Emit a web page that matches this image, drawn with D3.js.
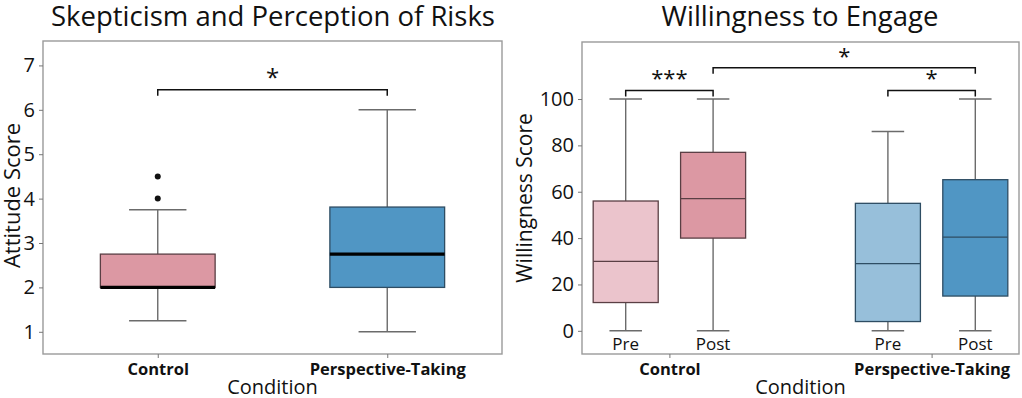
<!DOCTYPE html>
<html><head><meta charset="utf-8">
<script src="https://cdn.jsdelivr.net/npm/d3@7/dist/d3.min.js"></script>
<style>body{margin:0;background:#fff}svg{display:block}text{font-family:"Open Sans",sans-serif;fill:#111}</style>
</head><body>
<svg id="c" width="1022" height="398"></svg>
<script>
// ---- data ----
const leftCategories = ["Control", "Perspective-Taking"];
// [whiskerLow, Q1, median, Q3, whiskerHigh]
const leftStats = [
  [1.25, 2.0, 2.0, 2.75, 3.75],
  [1.0, 2.0, 2.75, 3.81, 6.0]
];
const leftOutliers = [[4.0, 4.5], []];
const leftTicks = [1, 2, 3, 4, 5, 6, 7];

const rightCategories = ["Control", "Perspective-Taking"];
const rightPhases = ["Pre", "Post"];
const rightStats = [
  [[0, 12.2, 30, 56, 100], [0, 40, 57, 77, 100]],
  [[0, 4, 29, 55, 86], [0, 15, 40.4, 65.2, 100]]
];
const rightTicks = [0, 20, 40, 60, 80, 100];

const colors = {
  Control: { Pre: "#ebc4cc", Post: "#dc98a3", edge: "#5a3f44" },
  "Perspective-Taking": { Pre: "#97bfda", Post: "#5096c4", edge: "#2e4d63" }
};

const svg = d3.select("#c");

function frame(x0, x1, y0, y1) {
  svg.append("rect").attr("x", x0).attr("y", y0).attr("width", x1 - x0).attr("height", y1 - y0)
    .attr("fill", "none").attr("stroke", "#9a9a9a").attr("stroke-width", 1.4);
}

function drawBox(g, cx, w, s, y, fill, edge, medColor, medWidth) {
  const capW = w / 2;
  const wc = "#6b6b6b";
  g.append("line").attr("x1", cx).attr("x2", cx).attr("y1", y(s[0])).attr("y2", y(s[1])).attr("stroke", wc).attr("stroke-width", 1.4);
  g.append("line").attr("x1", cx).attr("x2", cx).attr("y1", y(s[3])).attr("y2", y(s[4])).attr("stroke", wc).attr("stroke-width", 1.4);
  g.append("line").attr("x1", cx - capW / 2).attr("x2", cx + capW / 2).attr("y1", y(s[0])).attr("y2", y(s[0])).attr("stroke", wc).attr("stroke-width", 1.4);
  g.append("line").attr("x1", cx - capW / 2).attr("x2", cx + capW / 2).attr("y1", y(s[4])).attr("y2", y(s[4])).attr("stroke", wc).attr("stroke-width", 1.4);
  g.append("rect").attr("x", cx - w / 2).attr("y", y(s[3])).attr("width", w).attr("height", y(s[1]) - y(s[3]))
    .attr("fill", fill).attr("stroke", edge).attr("stroke-width", 1.3);
  g.append("line").attr("x1", cx - w / 2).attr("x2", cx + w / 2).attr("y1", y(s[2])).attr("y2", y(s[2])).attr("stroke", medColor).attr("stroke-width", medWidth);
}

function bracket(xa, xb, yb, leg, label, fs) {
  svg.append("path").attr("d", `M${xa},${yb + leg}V${yb}H${xb}V${yb + leg}`).attr("fill", "none").attr("stroke", "#111").attr("stroke-width", 1.5);
  svg.append("text").attr("x", (xa + xb) / 2).attr("y", yb - 4).attr("text-anchor", "middle").attr("font-size", fs).text(label);
}

// ---- left panel ----
{
  const L = { x0: 43, x1: 502, y0: 41, y1: 354 };
  const x = d3.scaleLinear().domain([-0.5, 1.5]).range([L.x0, L.x1]);
  const y = d3.scaleLinear().domain([0.5, 7.55]).range([L.y1, L.y0]);
  const g = svg.append("g");
  const bw = x(0.5) - x(0);
  leftStats.forEach((s, i) => {
    const cat = leftCategories[i];
    drawBox(g, x(i), bw, s, y, colors[cat].Post, colors[cat].edge, "#000", 3.2);
    leftOutliers[i].forEach(v => g.append("circle").attr("cx", x(i)).attr("cy", y(v)).attr("r", 3).attr("fill", "#111"));
  });
  frame(L.x0, L.x1, L.y0, L.y1);
  const ya = svg.append("g").attr("transform", `translate(${L.x0},0)`)
    .call(d3.axisLeft(y).tickValues(leftTicks).tickSize(4).tickPadding(4).tickFormat(d3.format("d")));
  ya.select(".domain").remove();
  ya.selectAll("line").attr("stroke", "#777");
  ya.selectAll("text").attr("font-size", 20).attr("fill", "#111");
  const xa = svg.append("g").attr("transform", `translate(0,${L.y1})`)
    .call(d3.axisBottom(x).tickValues([0, 1]).tickSize(4).tickPadding(5).tickFormat(d => leftCategories[d]));
  xa.select(".domain").remove();
  xa.selectAll("line").attr("stroke", "#777");
  xa.selectAll("text").attr("font-size", 16.5).attr("font-weight", "bold").attr("fill", "#111");
  svg.append("text").attr("x", (L.x0 + L.x1) / 2).attr("y", 394).attr("text-anchor", "middle").attr("font-size", 20).text("Condition");
  svg.append("text").attr("transform", `translate(20,${(L.y0 + L.y1) / 2 - 2}) rotate(-90)`).attr("text-anchor", "middle").attr("font-size", 22).text("Attitude Score");
  svg.append("text").attr("x", 273).attr("y", 26).attr("text-anchor", "middle").attr("font-size", 27.5).text("Skepticism and Perception of Risks");
  bracket(x(0), x(1), y(6.45), 6, "*", 24);
}

// ---- right panel ----
{
  const R = { x0: 582, x1: 1019, y0: 42, y1: 354 };
  const x = d3.scaleLinear().domain([-1 / 3, 4 / 3]).range([R.x0, R.x1]);
  const y = d3.scaleLinear().domain([-10, 124.6]).range([R.y1, R.y0]);
  const g = svg.append("g");
  const off = 1 / 6, bw = x(0.248) - x(0);
  rightStats.forEach((grp, i) => {
    const cat = rightCategories[i];
    grp.forEach((s, j) => {
      const cx = x(i + (j === 0 ? -off : off));
      drawBox(g, cx, bw, s, y, colors[cat][rightPhases[j]], colors[cat].edge, colors[cat].edge, 1.3);
      g.append("text").attr("x", cx).attr("y", y(0) + 19).attr("text-anchor", "middle").attr("font-size", 17).text(rightPhases[j]);
    });
  });
  frame(R.x0, R.x1, R.y0, R.y1);
  const ya = svg.append("g").attr("transform", `translate(${R.x0},0)`)
    .call(d3.axisLeft(y).tickValues(rightTicks).tickSize(4).tickPadding(4).tickFormat(d3.format("d")));
  ya.select(".domain").remove();
  ya.selectAll("line").attr("stroke", "#777");
  ya.selectAll("text").attr("font-size", 20).attr("fill", "#111");
  const xa = svg.append("g").attr("transform", `translate(0,${R.y1})`)
    .call(d3.axisBottom(x).tickValues([0, 1]).tickSize(4).tickPadding(5).tickFormat(d => rightCategories[d]));
  xa.select(".domain").remove();
  xa.selectAll("line").attr("stroke", "#777");
  xa.selectAll("text").attr("font-size", 16.5).attr("font-weight", "bold").attr("fill", "#111");
  svg.append("text").attr("x", (R.x0 + R.x1) / 2).attr("y", 394).attr("text-anchor", "middle").attr("font-size", 20).text("Condition");
  svg.append("text").attr("transform", `translate(532,${(R.y0 + R.y1) / 2}) rotate(-90)`).attr("text-anchor", "middle").attr("font-size", 21).text("Willingness Score");
  svg.append("text").attr("x", 800).attr("y", 26).attr("text-anchor", "middle").attr("font-size", 27.5).text("Willingness to Engage");
  bracket(x(-off), x(off), y(103.7), 6, "***", 22);
  bracket(x(1 - off), x(1 + off), y(103.7), 6, "*", 22);
  bracket(x(off), x(1 + off), y(113.5), 6, "*", 22);
}
</script>
</body></html>
